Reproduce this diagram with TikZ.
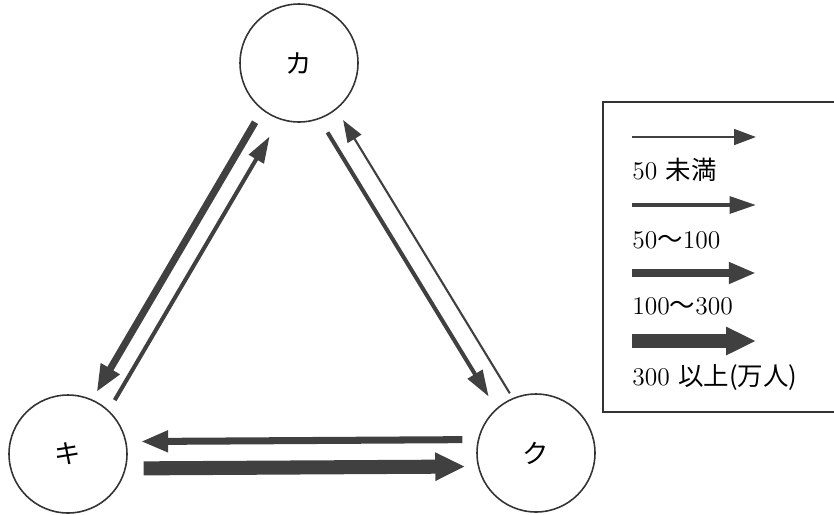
\documentclass[tikz,border=0pt]{standalone}
\usepackage{fontspec}
\newfontfamily\cjk{Noto Sans CJK JP}
\usetikzlibrary{arrows.meta}

\tikzset{
  town/.style={circle, draw=black!80, line width=0.9pt, minimum size=2.36cm,
    inner sep=0pt, font=\cjk\fontsize{15}{17}\selectfont},
  flowA/.style={draw=black!75, line width=1.2pt, -{Triangle[length=12.5pt, width=9pt]}},
  flowB/.style={draw=black!75, line width=2.3pt, -{Triangle[length=15pt, width=9.5pt]}},
  flowC/.style={draw=black!75, line width=4pt, -{Triangle[length=15.5pt, width=11.5pt]}},
  flowD/.style={draw=black!75, line width=8pt, -{Triangle[length=17pt, width=15pt]}},
  key/.style={anchor=west, inner sep=0pt, font=\fontsize{14.5}{16}\selectfont},
}

\begin{document}
\begin{tikzpicture}[x=0.02cm, y=-0.02cm]
\useasboundingbox (0,0) rectangle (834,514);

% towns
\node[town] (ka) at (299,63) {カ};
\node[town] (ki) at (68,454) {キ};
\node[town] (ku) at (536,453) {ク};

% flows
\draw[flowC, shorten <=8pt, shorten >=4.8pt] (ka.232.7) -- (ki.66.3);
\draw[flowB, shorten <=6.7pt, shorten >=11.2pt] (ki.47.8) -- (ka.251.2);
\draw[flowB, shorten <=8.8pt, shorten >=8pt] (ka.290.6) -- (ku.132);
\draw[flowA, shorten <=3.1pt, shorten >=7.1pt] (ku.113.5) -- (ka.309.1);
\draw[flowC, shorten <=8.8pt, shorten >=8.2pt] (ku.167.3) -- (ki.12.7);
\draw[flowD, shorten <=10pt, shorten >=7.2pt] (ki.346.3) -- (ku.193.7);

% legend
\draw[black!80, line width=0.9pt] (603,102) rectangle (840,412);
\coordinate (lgA) at (632,137);
\coordinate (lgB) at (632,205);
\coordinate (lgC) at (632,273);
\coordinate (lgD) at (632,341);
\draw[flowA] (lgA) -- ++(124,0);
\draw[flowB] (lgB) -- ++(124,0);
\draw[flowC] (lgC) -- ++(124,0);
\draw[flowD] (lgD) -- ++(124,0);
\node[key] (keyA) at (632,170) {50 {\cjk 未満}};
\node[key] (keyB) at (632,240) {50{\cjk ～}100};
\node[key] (keyC) at (632,306) {100{\cjk ～}300};
\node[key] (keyD) at (632,377) {300 {\cjk 以上(万人)}};
\end{tikzpicture}
\end{document}
